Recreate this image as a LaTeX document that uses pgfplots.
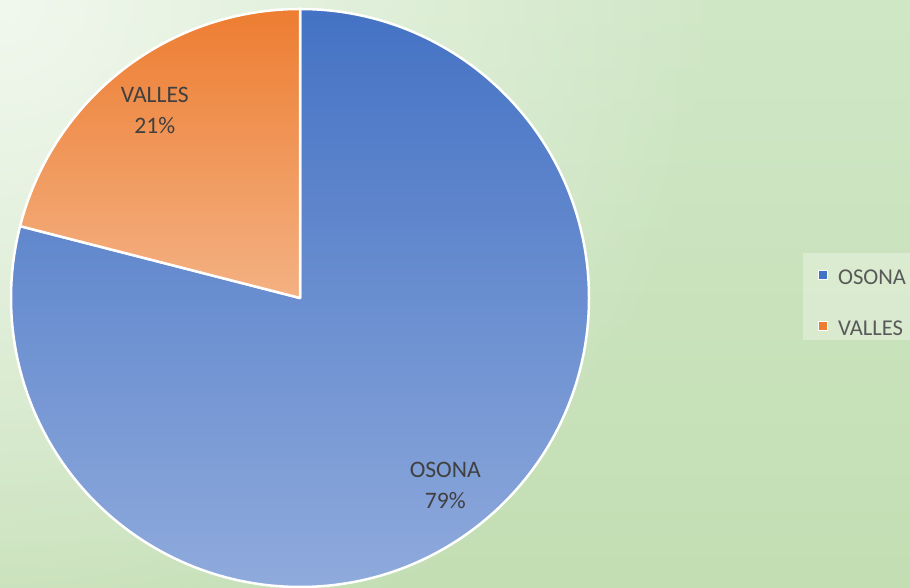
\documentclass[border=0pt]{standalone}
\usepackage{pgfplots}
\pgfplotsset{compat=1.18}
\usepackage{pgfplotstable}
\usetikzlibrary{fadings}
\usepackage{fontspec}
\setmainfont{Carlito}

\definecolor{bluetop}{HTML}{4472C4}
\definecolor{bluebot}{HTML}{8FAADC}
\definecolor{orangetop}{HTML}{ED7D31}
\definecolor{orangebot}{HTML}{F4B183}
\definecolor{bglight}{HTML}{F1F8EE}
\definecolor{bgtop}{HTML}{D0E7C6}
\definecolor{bgbot}{HTML}{C3DEB3}
\definecolor{labeltext}{HTML}{404040}
\definecolor{legendtext}{HTML}{595959}

\tikzfading[name=cornerfade, inner color=transparent!0, outer color=transparent!100]

% shares of the two regions
\pgfplotstableread{
region share
OSONA  79
VALLES 21
}\piedata

\pgfplotstablegetelem{0}{share}\of\piedata \let\sA\pgfplotsretval
\pgfplotstablegetelem{1}{share}\of\piedata \let\sB\pgfplotsretval
\pgfmathsetmacro{\tot}{\sA+\sB}
\pgfmathsetmacro{\fA}{\sA/\tot}
\pgfmathsetmacro{\fB}{\sB/\tot}
\pgfmathsetmacro{\angA}{90-360*\fA}   % end of OSONA, clockwise from top
\pgfmathsetmacro{\midA}{90-180*\fA}
\pgfmathsetmacro{\midB}{\angA-180*\fB}
\pgfmathtruncatemacro{\pA}{round(100*\fA)}
\pgfmathtruncatemacro{\pB}{round(100*\fB)}
\pgfmathsetmacro{\bx}{cos(\angA)}
\pgfmathsetmacro{\by}{sin(\angA)}
\pgfmathsetmacro{\lAx}{0.82*cos(\midA)}
\pgfmathsetmacro{\lAy}{0.82*sin(\midA)}
\pgfmathsetmacro{\lBx}{0.82*cos(\midB)}
\pgfmathsetmacro{\lBy}{0.82*sin(\midB)}

\begin{document}
\begin{tikzpicture}
\useasboundingbox (0,0) rectangle (455pt,294pt);
\clip (0,0) rectangle (455pt,294pt);

% background
\shade[top color=bgtop, bottom color=bgbot] (0,0) rectangle (455pt,294pt);
\fill[bglight, path fading=cornerfade] (0,294pt) circle (360pt);

\begin{axis}[
  at={(150pt,145pt)}, anchor=center,
  x=144.5pt, y=144.5pt,
  xmin=-1, xmax=1, ymin=-1, ymax=1,
  hide axis, clip=false,
  legend image code/.code={
    \draw[#1, fill opacity=1, draw opacity=1, draw=white, line width=0.4pt]
      (0pt,-4.0pt) rectangle (4.5pt,0.5pt);},
  legend style={
    at={(axis cs:1.74,0.156)}, anchor=north west,
    fill=white, fill opacity=0.3, text opacity=1, draw=none,
    inner xsep=7.5pt, inner ysep=1pt,
    column sep=5pt, row sep=9.2pt,
    font=\fontsize{11.3pt}{13pt}\selectfont, text=legendtext,
    nodes={inner sep=0pt, text height=14.6pt, text depth=1.5pt},
  },
  legend cell align=left,
]
\addlegendimage{fill=bluetop}
\addlegendentry{OSONA}
\addlegendimage{fill=orangetop}
\addlegendentry{VALLES}

\shadedraw[top color=bluetop, bottom color=bluebot, draw=white, line width=1.25pt, line join=round]
  (axis cs:0,0) -- (axis cs:0,1) arc[start angle=90, end angle=\angA, radius=144.5pt] -- cycle;
\shadedraw[top color=orangetop, bottom color=orangebot, draw=white, line width=1.25pt, line join=round]
  (axis cs:0,0) -- (axis cs:\bx,\by) arc[start angle=\angA, end angle=-270, radius=144.5pt] -- cycle;

\node[align=center, text=labeltext, font=\fontsize{11.8pt}{15.5pt}\selectfont]
  at (axis cs:\lAx,\lAy) {OSONA\\\pA\%};
\node[align=center, text=labeltext, font=\fontsize{11.8pt}{15.5pt}\selectfont]
  at (axis cs:\lBx,\lBy) {VALLES\\\pB\%};
\end{axis}
\end{tikzpicture}
\end{document}
